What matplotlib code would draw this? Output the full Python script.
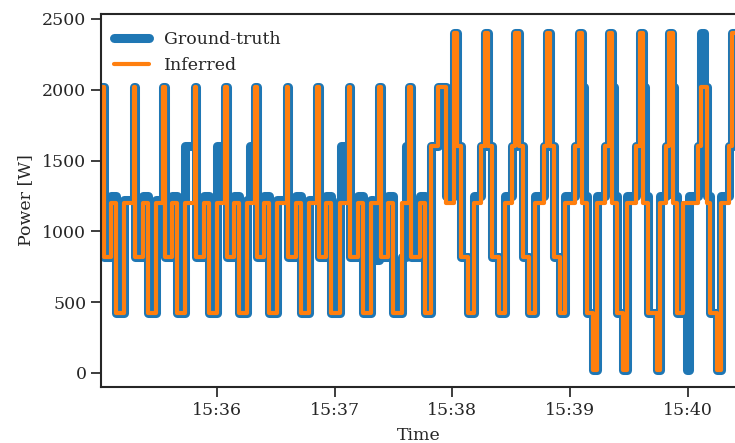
import numpy as np
import matplotlib
matplotlib.use("Agg")
import matplotlib.pyplot as plt
import matplotlib.dates as mdates

# ---------------- data (seconds after 15:35:01, power in W) ----------------
start_time = "2020-01-01T15:35:01"

inferred_t = [0, 1.3, 5.1, 7.7, 11.9,
              16.6, 17.4, 21.2, 23.8, 28.0,
              31.6, 32.4, 36.2, 38.8, 43.0,
              47.8, 48.6, 52.4, 55.0, 59.2,
              63.2, 64.0, 67.8, 70.4, 74.6,
              78.5, 79.3, 83.1, 85.7, 89.9,
              94.7, 95.5, 99.3, 101.9, 106.1,
              110.1, 110.9, 114.7, 117.3, 121.5,
              126.2, 127.0, 130.8, 133.4, 137.6,
              141.7, 142.5, 146.3, 148.9, 153.1,
              157.0, 157.8, 162.7, 165.3, 168.1, 171.9, 175.8,
              179.7, 181.6, 183.6, 187.0, 190.1,
              193.7, 195.4, 197.0, 199.1, 202.5, 205.6,
              209.4, 211.1, 212.7, 214.8, 218.2, 221.3,
              225.6, 227.3, 228.9, 231.0, 233.8, 236.5,
              241.7, 243.6, 245.0, 247.7, 250.7, 252.7,
              257.0, 258.9, 260.3, 263.0, 266.0, 268.0,
              272.7, 274.6, 276.0, 278.7, 283.2, 285.0,
              287.7, 289.6, 291.2, 293.5, 296.5,
              304.0, 305.9, 308.6, 310.2, 314.0, 316.0,
              319.7, 321.4, 323.5, 327.0]
inferred_w = [2020, 820, 1200, 420, 1200,
              2020, 820, 1200, 420, 1200,
              2020, 820, 1200, 420, 1200,
              2020, 820, 1200, 420, 1200,
              2020, 820, 1200, 420, 1200,
              2020, 820, 1200, 420, 1200,
              2020, 820, 1200, 420, 1200,
              2020, 820, 1200, 420, 1200,
              2020, 820, 1200, 420, 1200,
              2020, 820, 1200, 420, 1200,
              2020, 820, 1200, 420, 1600, 2020, 1200,
              2400, 1600, 820, 420, 1200,
              1600, 2400, 1600, 820, 420, 1200,
              1600, 2400, 1600, 820, 420, 1200,
              1600, 2400, 1600, 820, 420, 1200,
              1600, 2400, 1200, 420, 20, 1200,
              1600, 2400, 1200, 420, 20, 1200,
              1600, 2400, 1200, 420, 20, 1200,
              1600, 2400, 1200, 420, 1200,
              1600, 2020, 1200, 420, 20, 1200,
              1600, 2400, 1200, 1200]

truth_t = [0, 1.3, 5.1, 7.7, 11.9,
           16.6, 17.4, 21.2, 23.8, 28.0,
           31.6, 32.4, 36.2, 38.8, 43.0,
           47.8, 48.6, 52.4, 55.0, 59.2, 61.8,
           63.2, 64.0, 67.8, 70.4, 74.6, 76.0,
           78.5, 79.3, 83.1, 85.7, 89.9,
           94.7, 95.5, 99.3, 101.9, 106.1,
           110.1, 110.9, 114.7, 117.3, 121.5, 122.3,
           126.2, 127.0, 130.8, 133.4, 137.6, 138.7,
           141.7, 142.5, 146.3, 148.9, 153.1, 155.2,
           157.0, 157.8, 162.7, 165.3, 168.1, 171.9, 175.8,
           179.7, 181.6, 183.6, 187.0, 190.1,
           193.7, 195.4, 197.0, 199.1, 202.5, 205.6,
           209.4, 211.1, 212.7, 214.8, 218.2, 221.3,
           225.6, 227.3, 228.9, 231.0, 233.8, 236.5,
           241.7, 243.6, 245.0, 246.0, 247.7, 250.7, 252.7,
           257.0, 258.9, 260.3, 261.3, 263.0, 266.0, 268.0,
           272.7, 274.6, 276.0, 277.0, 278.7, 283.2, 285.0,
           287.7, 289.6, 291.0, 292.0, 293.5, 298.3, 299.5,
           304.0, 305.6, 307.2, 308.6, 310.2, 314.0, 316.0,
           319.7, 321.4, 323.3, 324.4, 325.5, 327.0]
truth_w = [2020, 820, 1250, 420, 1220,
           2020, 820, 1250, 420, 1220,
           2020, 820, 1250, 420, 1600,
           2020, 820, 1250, 420, 1600, 1250,
           2020, 820, 1250, 420, 1220, 1600,
           2020, 820, 1250, 420, 1220,
           2020, 820, 1250, 420, 1220,
           2020, 820, 1250, 420, 1220, 1600,
           2020, 820, 1250, 420, 1220, 800,
           2020, 820, 1250, 420, 820, 1600,
           2020, 820, 1250, 420, 1600, 2020, 1250,
           2400, 1600, 820, 420, 1250,
           1600, 2400, 1600, 820, 420, 1250,
           1600, 2400, 1600, 820, 420, 1250,
           1600, 2400, 1600, 820, 420, 1250,
           1600, 2400, 2020, 1250, 420, 20, 1250,
           1600, 2400, 2020, 1250, 420, 20, 1250,
           1600, 2400, 2020, 1250, 420, 20, 1250,
           1600, 2400, 2020, 1250, 420, 20, 1250,
           1600, 2400, 2020, 1250, 420, 20, 1250,
           1600, 2400, 1600, 1250, 420, 420]

y_ticks = [0, 500, 1000, 1500, 2000, 2500]
x_window_s = 324.0

# ---------------- plotting ----------------
text_c = "#262626"
plt.rcParams["font.family"] = ["DejaVu Serif"]
plt.rcParams["text.color"] = text_c
plt.rcParams["axes.labelcolor"] = text_c
plt.rcParams["xtick.color"] = text_c
plt.rcParams["ytick.color"] = text_c

base = np.datetime64(start_time)

def to_dt(sec):
    return base + (np.asarray(sec) * 1000).astype("int64").astype("timedelta64[ms]")

fig = plt.figure(figsize=(7.35, 4.43), dpi=100)
ax = fig.add_axes([101 / 735, 1 - 387 / 443, 636 / 735, 373 / 443])

ax.plot(to_dt(truth_t), truth_w, drawstyle="steps-post", color="#1f77b4",
        lw=6.5, solid_capstyle="round", solid_joinstyle="round", label="Ground-truth")
ax.plot(to_dt(inferred_t), inferred_w, drawstyle="steps-post", color="#ff7f0e",
        lw=3, solid_capstyle="round", solid_joinstyle="round", label="Inferred")

ax.set_xlim(to_dt(0), to_dt(x_window_s))
ax.set_ylim(-100, 2535)
ax.set_yticks(y_ticks)
ax.xaxis.set_major_locator(mdates.MinuteLocator())
ax.xaxis.set_major_formatter(mdates.DateFormatter("%H:%M"))

ax.set_xlabel("Time", fontsize=12.5, labelpad=6)
ax.set_ylabel("Power [W]", fontsize=12.5, labelpad=6)
ax.tick_params(axis="both", labelsize=12.5, length=7, width=1.25, direction="out")
for s in ax.spines.values():
    s.set_linewidth(1.5)
    s.set_color(text_c)

leg = ax.legend(loc="upper left", bbox_to_anchor=(-0.007, 1.0), frameon=False,
                fontsize=12.5, handlelength=2.0, handletextpad=0.9,
                borderaxespad=0.6, labelspacing=0.5)

fig.savefig("out.png", dpi=100)
